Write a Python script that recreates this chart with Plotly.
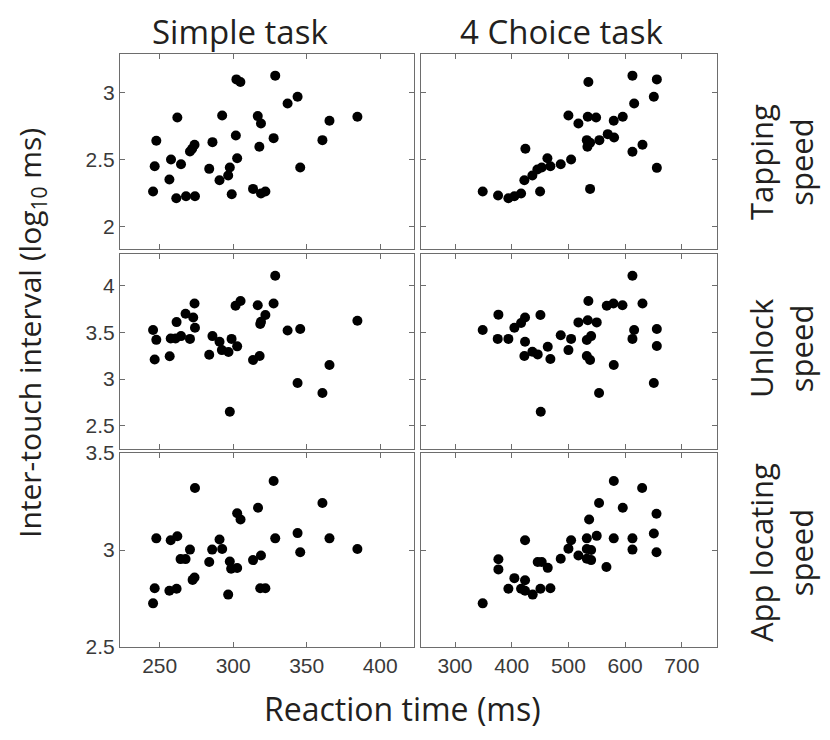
import plotly.graph_objects as go

# ---------------- data ----------------
simple_tap_x = [302.2, 304.9, 328.6, 343.8, 337.0, 262.0, 292.5, 316.7, 318.9, 365.5,
                384.5, 247.7, 273.7, 272.1, 270.6, 285.9, 301.8, 327.5, 317.8, 360.7,
                257.7, 246.6, 264.5, 302.7, 283.7, 297.7, 296.6, 290.7, 256.6, 345.6,
                245.5, 261.3, 267.9, 274.0, 299.0, 313.5, 318.9, 321.9]
simple_tap_y = [3.10, 3.08, 3.128, 2.97, 2.92, 2.815, 2.83, 2.825, 2.77, 2.79,
                2.82, 2.64, 2.61, 2.58, 2.56, 2.63, 2.68, 2.66, 2.595, 2.645,
                2.50, 2.45, 2.465, 2.51, 2.43, 2.44, 2.38, 2.345, 2.35, 2.44,
                2.26, 2.21, 2.225, 2.225, 2.24, 2.28, 2.245, 2.26]

choice_tap_x = [348.8, 375.9, 394.1, 404.7, 416.5, 450.0, 422.3, 436.4, 445.2, 452.9,
                468.2, 462.9, 486.4, 504.7, 424.1, 500.0, 517.6, 534.1, 548.8, 535.2,
                532.4, 538.2, 533.5, 554.6, 569.3, 580.5, 579.9, 595.8, 612.9, 615.9,
                650.6, 655.9, 630.6, 612.9, 655.9, 538.2]
choice_tap_y = [2.26, 2.23, 2.21, 2.225, 2.245, 2.26, 2.345, 2.38, 2.425, 2.44,
                2.45, 2.51, 2.465, 2.50, 2.58, 2.83, 2.77, 2.82, 2.815, 3.08,
                2.645, 2.625, 2.595, 2.645, 2.69, 2.665, 2.79, 2.82, 3.128, 2.92,
                2.97, 3.10, 2.61, 2.5575, 2.4375, 2.28]

simple_unlock_x = [328.6, 273.7, 267.6, 261.5, 272.8, 274.0, 245.5, 247.7, 257.5, 260.8,
                   264.5, 270.6, 246.6, 256.8, 285.9, 290.7, 292.3, 296.8, 298.9, 302.7,
                   283.7, 301.6, 305.0, 316.7, 327.5, 321.9, 318.9, 318.4, 313.5, 318.0,
                   337.0, 345.6, 384.5, 365.5, 343.8, 360.7, 297.7]
simple_unlock_y = [4.107, 3.81, 3.70, 3.61, 3.66, 3.55, 3.525, 3.42, 3.435, 3.435,
                   3.46, 3.43, 3.21, 3.245, 3.46, 3.40, 3.31, 3.29, 3.43, 3.35,
                   3.26, 3.786, 3.836, 3.79, 3.81, 3.686, 3.614, 3.59, 3.204, 3.246,
                   3.52, 3.536, 3.625, 3.15, 2.957, 2.85, 2.65]

choice_unlock_x = [612.9, 535.2, 567.6, 579.4, 595.3, 630.6, 376.5, 423.5, 416.5, 404.7,
                   450.6, 517.6, 534.1, 549.9, 348.8, 375.3, 394.1, 423.5, 486.4, 504.7,
                   532.4, 540.0, 615.9, 612.9, 655.9, 655.9, 463.5, 500.0, 422.3, 436.4,
                   445.8, 468.2, 532.4, 538.2, 579.9, 650.6, 554.0, 451.2]
choice_unlock_y = [4.107, 3.836, 3.786, 3.81, 3.79, 3.81, 3.69, 3.66, 3.60, 3.55,
                   3.686, 3.607, 3.63, 3.607, 3.525, 3.43, 3.43, 3.40, 3.47, 3.43,
                   3.418, 3.46, 3.525, 3.43, 3.536, 3.354, 3.346, 3.31, 3.246, 3.293,
                   3.264, 3.214, 3.246, 3.204, 3.15, 2.957, 2.85, 2.65]

simple_app_x = [327.5, 274.0, 360.7, 316.9, 302.7, 305.0, 247.7, 257.5, 262.0, 290.7,
                285.7, 292.5, 270.6, 264.2, 267.6, 283.7, 297.7, 298.6, 302.7, 313.5,
                318.9, 328.6, 343.8, 345.6, 365.5, 384.5, 272.4, 273.7, 246.6, 256.6,
                261.5, 245.5, 296.6, 318.4, 321.9]
simple_app_y = [3.356, 3.32, 3.242, 3.218, 3.189, 3.157, 3.06, 3.05, 3.071, 3.054,
                3.002, 3.005, 3.002, 2.953, 2.953, 2.938, 2.941, 2.903, 2.907, 2.948,
                2.972, 3.06, 3.087, 2.988, 3.06, 3.005, 2.846, 2.858, 2.803, 2.79,
                2.80, 2.725, 2.77, 2.803, 2.803]

choice_app_x = [580.0, 630.0, 554.0, 595.8, 655.3, 536.5, 650.6, 549.9, 532.4, 579.9,
                612.9, 504.7, 423.5, 500.0, 532.4, 540.0, 612.9, 655.3, 517.6, 532.4,
                540.0, 486.4, 567.0, 376.5, 376.5, 445.8, 452.9, 463.5, 404.7, 423.5,
                394.1, 416.5, 423.5, 437.0, 450.6, 468.2, 348.8]
choice_app_y = [3.356, 3.32, 3.242, 3.218, 3.187, 3.157, 3.085, 3.073, 3.06, 3.06,
                3.06, 3.05, 3.05, 3.007, 3.005, 3.0, 3.002, 2.988, 2.972, 2.955,
                2.948, 2.955, 2.912, 2.952, 2.90, 2.938, 2.938, 2.908, 2.855, 2.844,
                2.80, 2.80, 2.79, 2.77, 2.80, 2.803, 2.725]

column_titles = ["Simple task", "4 Choice task"]
row_titles = ["Tapping<br>speed", "Unlock<br>speed", "App locating<br>speed"]
x_ticks = [[250, 300, 350, 400], [300, 400, 500, 600, 700]]
y_ticks = [[2, 2.5, 3], [2.5, 3, 3.5, 4], [2.5, 3, 3.5]]
y_ticklabels = [["2", "2.5", "3"], ["2.5", "3", "3.5", "4"], ["2.5", "3", "3.5"]]

panels = [
    [(simple_tap_x, simple_tap_y), (choice_tap_x, choice_tap_y)],
    [(simple_unlock_x, simple_unlock_y), (choice_unlock_x, choice_unlock_y)],
    [(simple_app_x, simple_app_y), (choice_app_x, choice_app_y)],
]

# ---------------- layout geometry ----------------
# The page body adds an 8px offset; the figure is sized so that nothing scrolls.
OFF = 8
W, H = 830 - 2 * OFF, 740 - 2 * OFF


def px(x):
    return (x - OFF) / W


def py(y):
    return 1 - (y - OFF) / H


xdom = [[px(120), px(414)], [px(421), px(717)]]
ydom = [[py(249), py(54)], [py(449), py(254)], [py(647), py(453)]]
xranges = [[223, 423], [240, 762]]
yranges = [[1.83, 3.29], [2.25, 4.34], [2.5, 3.5]]

tick_font = dict(family="Liberation Sans, Arial, sans-serif", size=21, color="#3a3a3a")
text_color = "#231f20"
frame_color = "#6d6d6d"

fig = go.Figure()
layout = dict(
    width=W, height=H,
    margin=dict(l=0, r=0, t=0, b=0, pad=0, autoexpand=False),
    paper_bgcolor="white", plot_bgcolor="white",
    showlegend=False,
)

for r in range(3):
    for c in range(2):
        n = r * 2 + c + 1
        xs, ys = panels[r][c]
        suffix = "" if n == 1 else str(n)
        fig.add_trace(go.Scatter(
            x=xs, y=ys, mode="markers",
            marker=dict(color="black", size=10, line=dict(width=0)),
            xaxis="x" + suffix, yaxis="y" + suffix,
        ))
        layout["xaxis" + suffix] = dict(
            domain=xdom[c], range=xranges[c], autorange=False, anchor="y" + suffix,
            tickmode="array", tickvals=x_ticks[c],
            showticklabels=(r == 2), tickfont=tick_font,
            ticks="inside", ticklen=5, tickcolor=frame_color, tickwidth=1,
            showline=True, linecolor=frame_color, linewidth=1, mirror="allticks",
            showgrid=False, zeroline=False,
        )
        layout["yaxis" + suffix] = dict(
            domain=ydom[r], range=yranges[r], autorange=False, anchor="x" + suffix,
            tickmode="array", tickvals=y_ticks[r], ticktext=y_ticklabels[r],
            showticklabels=(c == 0), tickfont=tick_font,
            ticks="inside", ticklen=5, tickcolor=frame_color, tickwidth=1,
            showline=True, linecolor=frame_color, linewidth=1, mirror="allticks",
            showgrid=False, zeroline=False,
        )

annotations = []
col_centers = [240, 561]
for c, t in enumerate(column_titles):
    annotations.append(dict(text=t, x=px(col_centers[c]), y=py(31),
                            xref="paper", yref="paper", showarrow=False,
                            xanchor="center", yanchor="middle",
                            font=dict(family="Open Sans, sans-serif", size=33, color=text_color)))
row_centers = [162, 348, 553]
for r, t in enumerate(row_titles):
    annotations.append(dict(text=t, x=px(781), y=py(row_centers[r]),
                            xref="paper", yref="paper", showarrow=False,
                            xanchor="center", yanchor="middle", textangle=-90,
                            font=dict(family="Open Sans, sans-serif", size=31, color=text_color)))
annotations.append(dict(text="Inter-touch interval (log<sub>10</sub> ms)",
                        x=px(31), y=py(333), xref="paper", yref="paper",
                        showarrow=False, xanchor="center", yanchor="middle",
                        textangle=-90,
                        font=dict(family="Open Sans, sans-serif", size=30, color=text_color)))
annotations.append(dict(text="Reaction time (ms)", x=px(402), y=0,
                        xref="paper", yref="paper", showarrow=False,
                        xanchor="center", yanchor="bottom",
                        font=dict(family="Open Sans, sans-serif", size=32, color=text_color)))
layout["annotations"] = annotations

fig.update_layout(**layout)
fig.write_html("out.html")
